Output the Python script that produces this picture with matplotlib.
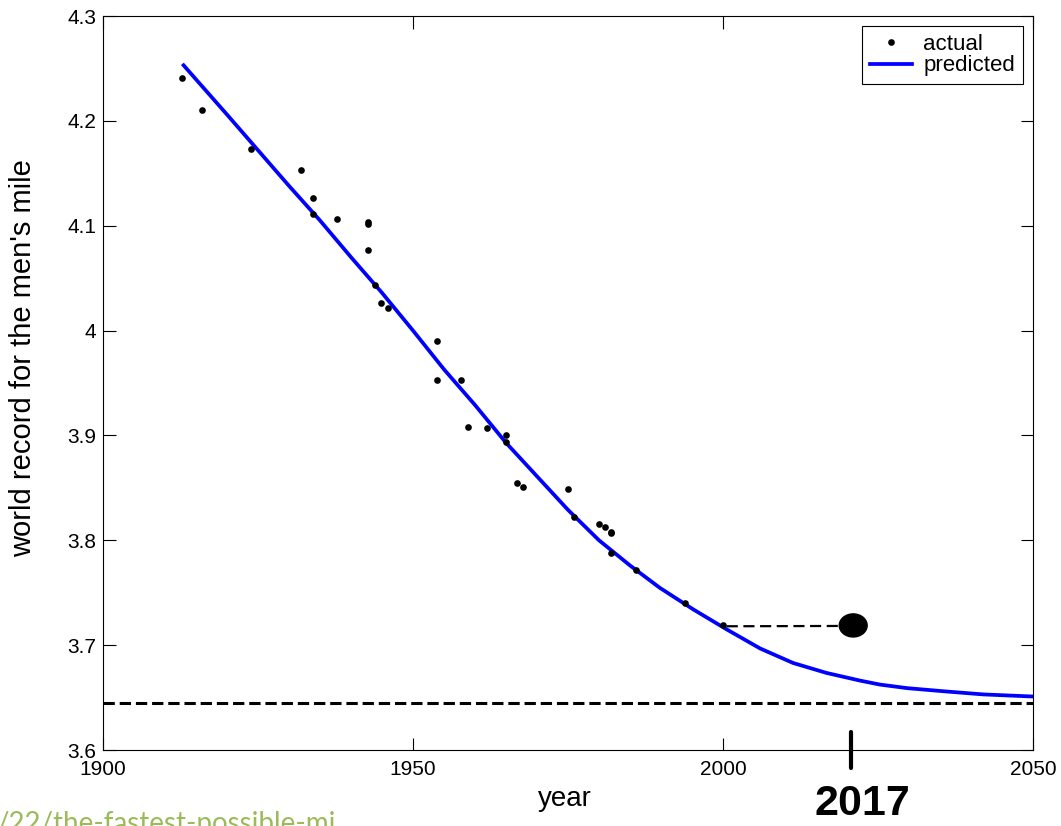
import matplotlib
matplotlib.use("Agg")
import matplotlib.pyplot as plt
from matplotlib.patches import Ellipse

# Men's mile world record progression (minutes)
record_year = [1912.8, 1915.9, 1923.8, 1931.9, 1933.8, 1933.8, 1937.8, 1942.8,
               1942.8, 1942.8, 1943.9, 1944.9, 1945.9, 1953.8, 1953.8, 1957.8,
               1958.8, 1961.9, 1965.0, 1965.0, 1966.8, 1967.8, 1975.0, 1975.9,
               1980.0, 1981.0, 1981.9, 1981.9, 1981.9, 1986.0, 1993.9, 2000.0]
record_time = [4.2405, 4.2099, 4.1736, 4.1536, 4.1268, 4.1116, 4.1064, 4.1035,
               4.1020, 4.0768, 4.0437, 4.0262, 4.0214, 3.990, 3.953, 3.953,
               3.908, 3.907, 3.900, 3.894, 3.855, 3.851, 3.849, 3.822,
               3.816, 3.813, 3.808, 3.807, 3.788, 3.772, 3.740, 3.719]

# Fitted model curve
model_year = [1913.0, 1920.0, 1925.0, 1930.0, 1935.0, 1940.0, 1945.0, 1950.0,
              1955.0, 1960.0, 1965.0, 1970.0, 1975.0, 1980.0, 1985.0, 1989.8,
              1995.2, 2000.6, 2006.0, 2011.3, 2016.7, 2022.1, 2025.3, 2029.7,
              2035.6, 2042.0, 2050.0]
model_time = [4.253, 4.206, 4.172, 4.138, 4.105, 4.070, 4.036, 4.000,
              3.963, 3.929, 3.893, 3.861, 3.829, 3.800, 3.776, 3.7547,
              3.7341, 3.7150, 3.6968, 3.6830, 3.6735, 3.6662, 3.6624, 3.6590,
              3.6560, 3.6530, 3.6510]

# Limiting time the model approaches
asymptote = 3.645

# Hand-drawn note: the record still standing
note_years = [2000.6, 2019.0]
note_times = [3.7180, 3.7183]
note_point = (2021.0, 3.7188)
note_label = "2017"

x_ticks = [1900, 1950, 2000, 2050]
y_ticks = [3.6, 3.7, 3.8, 3.9, 4.0, 4.1, 4.2, 4.3]
y_tick_labels = ["3.6", "3.7", "3.8", "3.9", "4", "4.1", "4.2", "4.3"]

plt.rcParams['font.family'] = ['Liberation Sans', 'DejaVu Sans']

W, H = 1061, 826
fig = plt.figure(figsize=(W / 100, H / 100), dpi=100)
fig.patch.set_facecolor("white")
ax = fig.add_axes([103 / W, 76 / H, 930 / W, 734 / H])

ax.plot(model_year, model_time, color="#0000FF", lw=2.7, label="predicted",
        solid_joinstyle="round", zorder=2)
ax.plot(record_year, record_time, "o", color="black", markersize=4.8,
        markeredgewidth=0, label="actual", zorder=3)
ax.axhline(asymptote, color="black", lw=2.2, ls="--", zorder=2)

# hand-drawn annotation
ax.plot(note_years, note_times, color="black", lw=1.6, dashes=(5, 2.5),
        solid_capstyle="round", zorder=3)
ax.add_patch(Ellipse(note_point, width=4.5, height=0.022, angle=0,
                     facecolor="black", edgecolor="black", zorder=4))
ax.plot([2020.7, 2020.7], [3.6175, 3.5828], color="black", lw=3,
        solid_capstyle="round", clip_on=False, zorder=5)
ax.text(2022.5, 3.5680, note_label, ha="center", va="top", fontsize=31,
        fontweight="bold", family=["Liberation Sans", "DejaVu Sans"],
        clip_on=False)

ax.set_xlim(1900, 2050)
ax.set_ylim(3.6, 4.3)
ax.set_xticks(x_ticks)
ax.set_xticklabels([str(t) for t in x_ticks])
ax.set_yticks(y_ticks)
ax.set_yticklabels(y_tick_labels)
ax.tick_params(direction="in", length=9, width=0.8, top=True, right=True,
               labelsize=15, colors="black")
ax.tick_params(axis="y", pad=5)
ax.tick_params(axis="x", pad=7)
for s in ax.spines.values():
    s.set_linewidth(0.8)
    s.set_color("black")

ax.set_xlabel("year", fontsize=20)
ax.xaxis.set_label_coords(0.4968, -0.049)
ax.set_ylabel("world record for the men's mile", fontsize=21)
ax.yaxis.set_label_coords(-0.071, 0.534)

handles, labels = ax.get_legend_handles_labels()
leg = ax.legend([handles[1], handles[0]], [labels[1], labels[0]],
                loc="upper right", bbox_to_anchor=(0.9892, 0.9864),
                borderaxespad=0, fontsize=16, numpoints=1, handlelength=1.9,
                handletextpad=0.5, labelspacing=0.02, borderpad=0.36,
                fancybox=False, framealpha=1, edgecolor="black")
leg.get_frame().set_linewidth(0.8)

fig.text(-4 / W, -6 / H, "/22/the-fastest-possible-mi", color="#9BBB59",
         fontsize=20, family=["Lato", "DejaVu Sans"], ha="left", va="baseline")

fig.savefig("out.png", dpi=100, facecolor="white")
